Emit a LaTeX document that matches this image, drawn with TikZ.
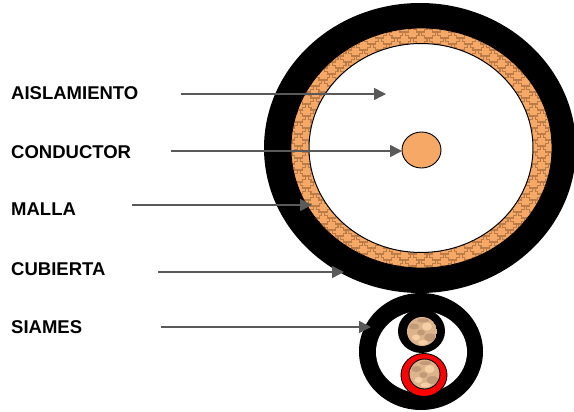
\documentclass[tikz,border=0pt]{standalone}
\usepackage{fontspec}
\setmainfont{Liberation Sans}
\usetikzlibrary{arrows.meta}
\definecolor{arrowgray}{HTML}{595959}
\definecolor{copper}{HTML}{F6A967}
\definecolor{weave}{HTML}{BC7C48}
\definecolor{strandbase}{HTML}{DDB38C}
\definecolor{stranddark}{HTML}{C29A78}
\definecolor{strandlight}{HTML}{F6CFA6}
\tikzset{
  labeltext/.style={anchor=west,inner sep=0pt,font=\fontsize{18.5}{20}\selectfont\bfseries,text=black},
  pointer/.style={draw=arrowgray,line width=1.5pt,-{Triangle[length=12pt,width=12pt]}},
  outline/.style={draw=black,line width=.9pt},
}
\newcommand{\strands}[2]{%
  \begin{scope}[shift={(#1,#2)}]
    \fill[stranddark] (-8,-5) ellipse (5 and 3);
    \fill[strandlight] (5,-5) ellipse (5 and 4);
    \fill[stranddark] (8,6) ellipse (6 and 4);
    \fill[strandlight] (-6,6) ellipse (4 and 3);
    \fill[stranddark] (-1,1) ellipse (4 and 3);
    \fill[strandlight] (1,11) ellipse (5 and 2.5);
    \fill[stranddark] (1,-11) ellipse (6 and 2);
  \end{scope}}
\begin{document}
\begin{tikzpicture}[x=1pt,y=-1pt]
\useasboundingbox (0,0) rectangle (574,412);
% main cable
\fill[black] (420,148) ellipse (156 and 145);
\fill[copper] (421.5,148) ellipse (130.5 and 120);
\begin{scope}
  \clip (421.5,148) ellipse (130.5 and 120);
  \foreach \r in {0,...,43}{
    \pgfmathsetmacro{\yy}{26+\r*6}
    \pgfmathsetmacro{\xo}{284+mod(\r,2)*8}
    \draw[weave,line width=1.1pt,line join=miter]
      (\xo,\yy) \foreach \k in {0,...,17}{
        -- ++(2.7,0) -- ++(0,-2.7) -- ++(2.7,0) -- ++(0,-2.7)
        -- ++(2.7,0) -- ++(0,2.7) -- ++(2.7,0) -- ++(0,2.7) -- ++(5.4,0)
      };
  }
\end{scope}
\draw[black,line width=.8pt] (421.5,148) ellipse (130.5 and 120);
\fill[white,draw=black,line width=1pt] (421,148) ellipse (112 and 104.5);
\fill[copper,outline] (421.5,150) ellipse (19.5 and 18);
% siamese cable
\fill[black] (421,351.5) ellipse (62 and 58.5);
\fill[white] (421.5,352) ellipse (45.5 and 41);
\fill[black] (421.5,331) ellipse (23.5 and 22);
\begin{scope}
  \clip (422,331.5) ellipse (15 and 14.5);
  \fill[strandbase] (422,331.5) ellipse (15 and 14.5);
  \strands{422}{331.5}
\end{scope}
\fill[red,outline] (424,375) ellipse (23 and 21.5);
\begin{scope}
  \clip (424.5,374) ellipse (15.5 and 15);
  \fill[strandbase] (424.5,374) ellipse (15.5 and 15);
  \strands{424.5}{374}
\end{scope}
\draw[outline] (424.5,374) ellipse (15.5 and 15);
% labels
\node[labeltext] (aislamiento) at (11,93.5) {AISLAMIENTO};
\node[labeltext] (conductor) at (11,152) {CONDUCTOR};
\node[labeltext] (malla) at (11,209.5) {MALLA};
\node[labeltext] (cubierta) at (11,269) {CUBIERTA};
\node[labeltext] (siames) at (11,327) {SIAMES};
% connectors
\coordinate (a1) at (181,94);   \coordinate (a2) at (386,94);
\coordinate (b1) at (171,151);  \coordinate (b2) at (402,151);
\coordinate (c1) at (132,205);  \coordinate (c2) at (312,205);
\coordinate (d1) at (158,272);  \coordinate (d2) at (344,272);
\coordinate (e1) at (161,327);  \coordinate (e2) at (371,327);
\draw[pointer] (a1) -- (a2);
\draw[pointer] (b1) -- (b2);
\draw[pointer] (c1) -- (c2);
\draw[pointer] (d1) -- (d2);
\draw[pointer] (e1) -- (e2);
\end{tikzpicture}
\end{document}
